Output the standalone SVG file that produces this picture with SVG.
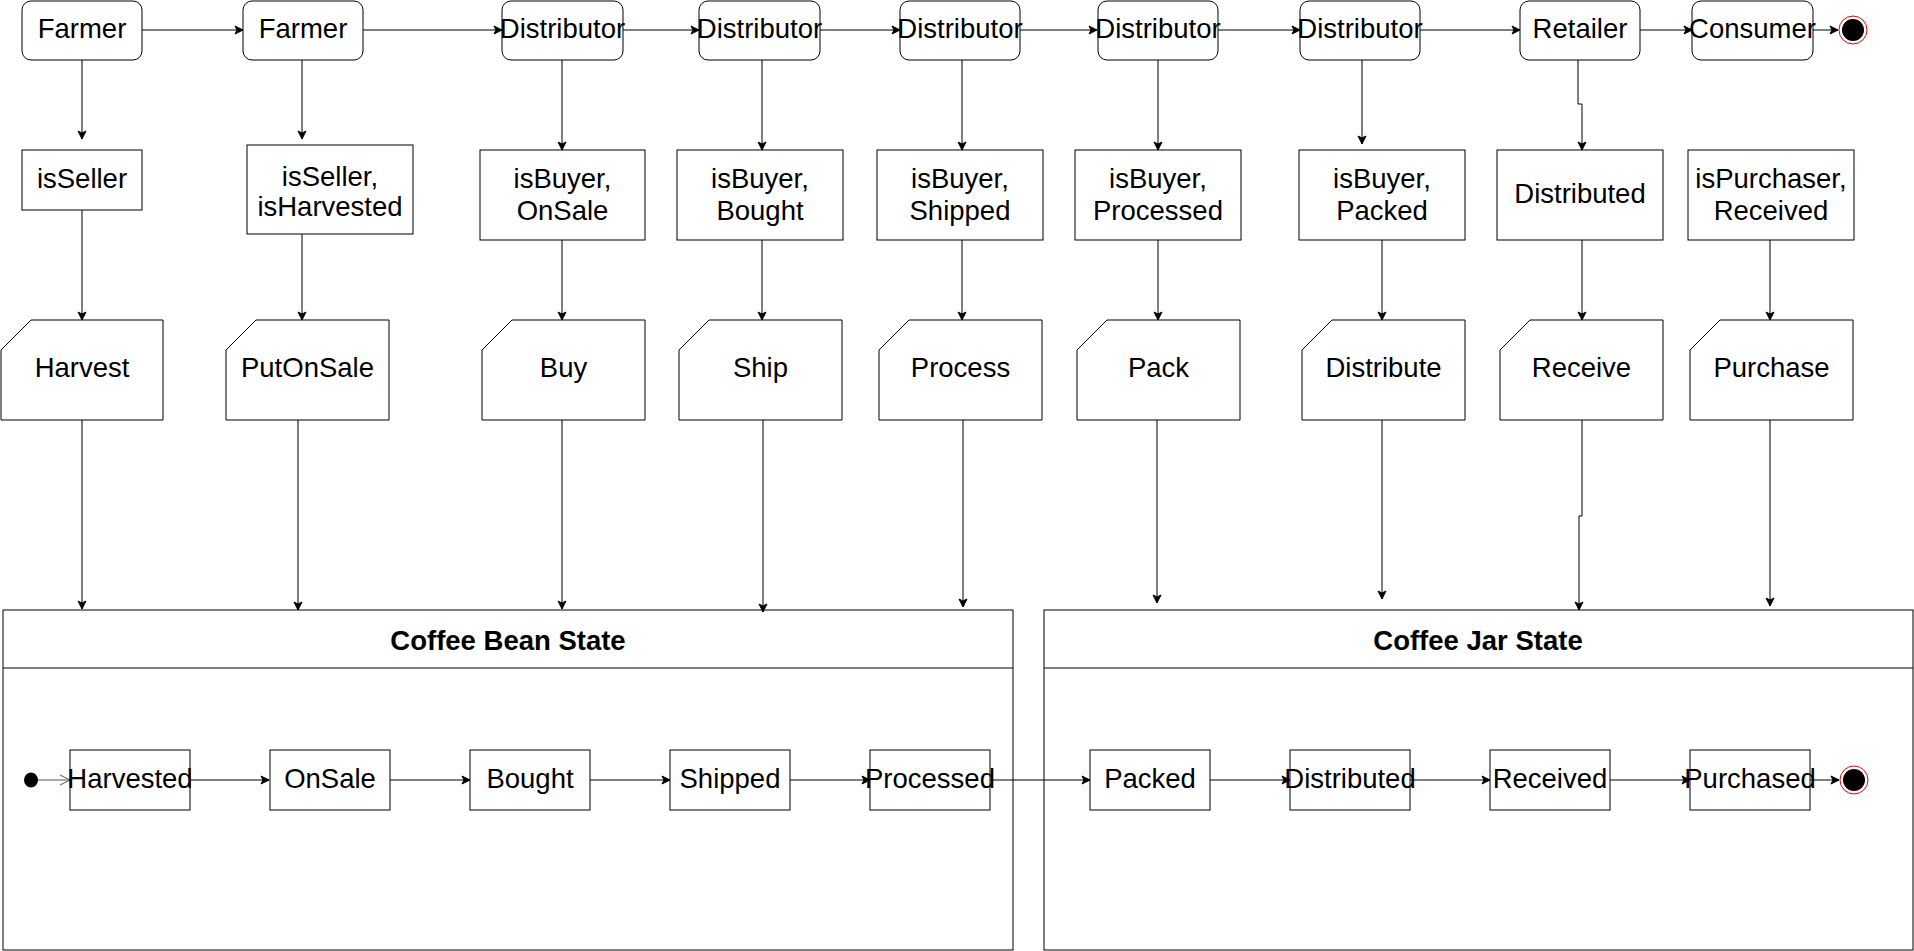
<svg xmlns="http://www.w3.org/2000/svg" width="1914" height="951" viewBox="0 0 1914 951">
<defs>
<style>
.n{fill:#fff;stroke:#000;stroke-width:1}
.t{font-family:"Liberation Sans",Arial,sans-serif;font-size:27.5px;fill:#000;text-anchor:middle}
.b{font-weight:bold}
.e{fill:none;stroke:#000;stroke-width:1}
</style>
<marker id="a" markerUnits="userSpaceOnUse" markerWidth="10" markerHeight="10" refX="9" refY="5" orient="auto">
<path d="M1,1 L9,5 L1,9 L3,5 Z" fill="#000" stroke="#000" stroke-width="1"/>
</marker>
<marker id="o" markerUnits="userSpaceOnUse" markerWidth="12" markerHeight="12" refX="11" refY="6" orient="auto">
<path d="M1,1 L11,6 L1,11" fill="none" stroke="#555" stroke-width="1"/>
</marker>
</defs>
<rect width="1914" height="951" fill="#fff"/>

<g id="containers">
<g id="bean-state"><rect class="n" x="3" y="610" width="1010" height="340"/><line class="e" x1="3" y1="668" x2="1013" y2="668"/><text class="t b" x="508" y="650">Coffee Bean State</text></g>
<g id="jar-state"><rect class="n" x="1044" y="610" width="869" height="340"/><line class="e" x1="1044" y1="668" x2="1913" y2="668"/><text class="t b" x="1478" y="650">Coffee Jar State</text></g>
</g>

<g id="connectors">
<g marker-end="url(#a)" class="e">
<line x1="142" y1="30" x2="243" y2="30"/>
<line x1="363" y1="30" x2="502" y2="30"/>
<line x1="623" y1="30" x2="699" y2="30"/>
<line x1="820" y1="30" x2="900" y2="30"/>
<line x1="1019" y1="30" x2="1097" y2="30"/>
<line x1="1218" y1="30" x2="1300" y2="30"/>
<line x1="1420" y1="30" x2="1520" y2="30"/>
<line x1="1640" y1="30" x2="1692" y2="30"/>
<line x1="1813" y1="30" x2="1838" y2="30"/>
<line x1="82" y1="60" x2="82" y2="139"/>
<line x1="302" y1="60" x2="302" y2="139"/>
<line x1="562" y1="60" x2="562" y2="150"/>
<line x1="762" y1="60" x2="762" y2="150"/>
<line x1="962" y1="60" x2="962" y2="150"/>
<line x1="1158" y1="60" x2="1158" y2="150"/>
<line x1="1362" y1="60" x2="1362" y2="144"/>
<polyline points="1578,60 1578,104 1582,104 1582,150"/>
<line x1="82" y1="210" x2="82" y2="320"/>
<line x1="302" y1="234" x2="302" y2="320"/>
<line x1="562" y1="240" x2="562" y2="320"/>
<line x1="762" y1="240" x2="762" y2="320"/>
<line x1="962" y1="240" x2="962" y2="320"/>
<line x1="1158" y1="240" x2="1158" y2="320"/>
<line x1="1382" y1="240" x2="1382" y2="320"/>
<line x1="1582" y1="240" x2="1582" y2="320"/>
<line x1="1770" y1="240" x2="1770" y2="320"/>
<line x1="82" y1="420" x2="82" y2="609"/>
<line x1="298" y1="420" x2="298" y2="610"/>
<line x1="562" y1="420" x2="562" y2="609"/>
<line x1="763" y1="420" x2="763" y2="612"/>
<line x1="963" y1="420" x2="963" y2="607"/>
<line x1="1157" y1="420" x2="1157" y2="603"/>
<line x1="1382" y1="420" x2="1382" y2="599"/>
<polyline points="1582,420 1582,516 1579,516 1579,610"/>
<line x1="1770" y1="420" x2="1770" y2="606"/>
<line x1="190" y1="780" x2="269" y2="780"/>
<line x1="390" y1="780" x2="470" y2="780"/>
<line x1="590" y1="780" x2="670" y2="780"/>
<line x1="790" y1="780" x2="870" y2="780"/>
<line x1="990" y1="780" x2="1090" y2="780"/>
<line x1="1210" y1="780" x2="1290" y2="780"/>
<line x1="1410" y1="780" x2="1490" y2="780"/>
<line x1="1610" y1="780" x2="1690" y2="780"/>
<line x1="1810" y1="780" x2="1839" y2="780"/>
</g>
<line x1="37" y1="780" x2="70" y2="780" stroke="#555" stroke-width="1" marker-end="url(#o)"/>
</g>

<g id="roles">
<g id="farmer1"><rect class="n" x="22" y="1" width="120" height="59" rx="9"/><text class="t" x="82" y="38">Farmer</text></g>
<g id="farmer2"><rect class="n" x="243" y="1" width="120" height="59" rx="9"/><text class="t" x="303" y="38">Farmer</text></g>
<g id="distributor1"><rect class="n" x="502" y="1" width="121" height="59" rx="9"/><text class="t" x="562.5" y="38">Distributor</text></g>
<g id="distributor2"><rect class="n" x="699" y="1" width="121" height="59" rx="9"/><text class="t" x="759.5" y="38">Distributor</text></g>
<g id="distributor3"><rect class="n" x="900" y="1" width="120" height="59" rx="9"/><text class="t" x="960" y="38">Distributor</text></g>
<g id="distributor4"><rect class="n" x="1098" y="1" width="120" height="59" rx="9"/><text class="t" x="1158" y="38">Distributor</text></g>
<g id="distributor5"><rect class="n" x="1300" y="1" width="120" height="59" rx="9"/><text class="t" x="1360" y="38">Distributor</text></g>
<g id="retailer"><rect class="n" x="1520" y="1" width="120" height="59" rx="9"/><text class="t" x="1580" y="38">Retailer</text></g>
<g id="consumer"><rect class="n" x="1692" y="1" width="121" height="59" rx="9"/><text class="t" x="1752.5" y="38">Consumer</text></g>
<g id="end-top"><circle cx="1853" cy="30" r="14" fill="#fff" stroke="#e00" stroke-width="1"/><circle cx="1853" cy="30" r="11" fill="#000"/></g>
</g>

<g id="conditions">
<g id="c-isSeller"><rect class="n" x="22" y="150" width="120" height="60"/><text class="t" x="82" y="188">isSeller</text></g>
<g id="c-isHarvested"><rect class="n" x="247" y="145" width="166" height="89"/><text class="t" x="330" y="186">isSeller,</text><text class="t" x="330" y="216">isHarvested</text></g>
<g id="c-onsale"><rect class="n" x="480" y="150" width="165" height="90"/><text class="t" x="562.5" y="188">isBuyer,</text><text class="t" x="562.5" y="220">OnSale</text></g>
<g id="c-bought"><rect class="n" x="677" y="150" width="166" height="90"/><text class="t" x="760" y="188">isBuyer,</text><text class="t" x="760" y="220">Bought</text></g>
<g id="c-shipped"><rect class="n" x="877" y="150" width="166" height="90"/><text class="t" x="960" y="188">isBuyer,</text><text class="t" x="960" y="220">Shipped</text></g>
<g id="c-processed"><rect class="n" x="1075" y="150" width="166" height="90"/><text class="t" x="1158" y="188">isBuyer,</text><text class="t" x="1158" y="220">Processed</text></g>
<g id="c-packed"><rect class="n" x="1299" y="150" width="166" height="90"/><text class="t" x="1382" y="188">isBuyer,</text><text class="t" x="1382" y="220">Packed</text></g>
<g id="c-distributed"><rect class="n" x="1497" y="150" width="166" height="90"/><text class="t" x="1580" y="203">Distributed</text></g>
<g id="c-received"><rect class="n" x="1688" y="150" width="166" height="90"/><text class="t" x="1771" y="188">isPurchaser,</text><text class="t" x="1771" y="220">Received</text></g>
</g>

<g id="actions">
<g id="a-harvest"><path class="n" d="M31,320 H163 V420 H1 V350 Z"/><text class="t" x="82" y="377">Harvest</text></g>
<g id="a-putonsale"><path class="n" d="M256,320 H389 V420 H226 V350 Z"/><text class="t" x="307.5" y="377">PutOnSale</text></g>
<g id="a-buy"><path class="n" d="M512,320 H645 V420 H482 V350 Z"/><text class="t" x="563.5" y="377">Buy</text></g>
<g id="a-ship"><path class="n" d="M709,320 H842 V420 H679 V350 Z"/><text class="t" x="760.5" y="377">Ship</text></g>
<g id="a-process"><path class="n" d="M909,320 H1042 V420 H879 V350 Z"/><text class="t" x="960.5" y="377">Process</text></g>
<g id="a-pack"><path class="n" d="M1107,320 H1240 V420 H1077 V350 Z"/><text class="t" x="1158.5" y="377">Pack</text></g>
<g id="a-distribute"><path class="n" d="M1332,320 H1465 V420 H1302 V350 Z"/><text class="t" x="1383.5" y="377">Distribute</text></g>
<g id="a-receive"><path class="n" d="M1530,320 H1663 V420 H1500 V350 Z"/><text class="t" x="1581.5" y="377">Receive</text></g>
<g id="a-purchase"><path class="n" d="M1720,320 H1853 V420 H1690 V350 Z"/><text class="t" x="1771.5" y="377">Purchase</text></g>
</g>

<g id="states">
<g id="start"><ellipse cx="31" cy="780" rx="7" ry="7.5" fill="#000"/></g>
<g id="s-harvested"><rect class="n" x="70" y="750" width="120" height="60"/><text class="t" x="130" y="788">Harvested</text></g>
<g id="s-onsale"><rect class="n" x="270" y="750" width="120" height="60"/><text class="t" x="330" y="788">OnSale</text></g>
<g id="s-bought"><rect class="n" x="470" y="750" width="120" height="60"/><text class="t" x="530" y="788">Bought</text></g>
<g id="s-shipped"><rect class="n" x="670" y="750" width="120" height="60"/><text class="t" x="730" y="788">Shipped</text></g>
<g id="s-processed"><rect class="n" x="870" y="750" width="120" height="60"/><text class="t" x="930" y="788">Processed</text></g>
<g id="s-packed"><rect class="n" x="1090" y="750" width="120" height="60"/><text class="t" x="1150" y="788">Packed</text></g>
<g id="s-distributed"><rect class="n" x="1290" y="750" width="120" height="60"/><text class="t" x="1350" y="788">Distributed</text></g>
<g id="s-received"><rect class="n" x="1490" y="750" width="120" height="60"/><text class="t" x="1550" y="788">Received</text></g>
<g id="s-purchased"><rect class="n" x="1690" y="750" width="120" height="60"/><text class="t" x="1750" y="788">Purchased</text></g>
<g id="end-bottom"><circle cx="1854" cy="780" r="14" fill="#fff" stroke="#e00" stroke-width="1"/><circle cx="1854" cy="780" r="11" fill="#000"/></g>
</g>
</svg>
